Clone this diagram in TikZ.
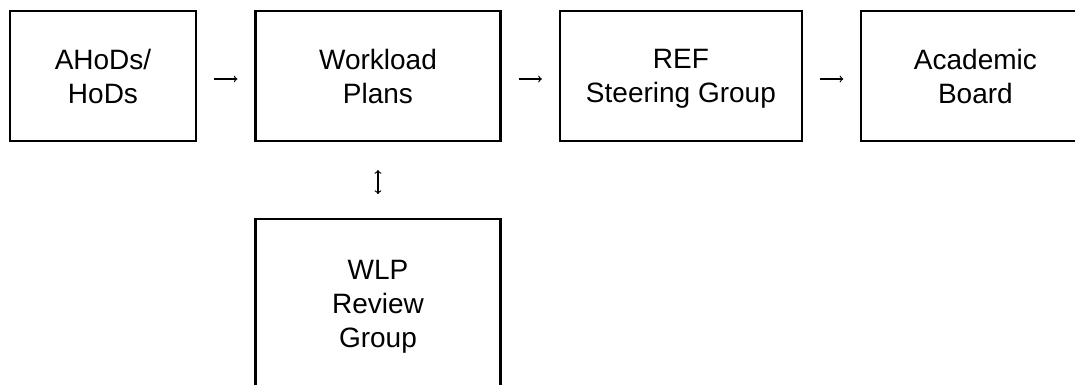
\documentclass[tikz,border=0pt]{standalone}
\usepackage{fontspec}
\setmainfont{Liberation Sans}
\usepackage{tikz}
\usetikzlibrary{
	arrows,
	positioning,
	calc
}

\begin{document}
\begin{tikzpicture}[node distance=57pt and 43pt,
        box/.style={draw, rectangle, line width=1.6pt, align=center, minimum height=97.5pt,
            text depth=0pt, font=\fontsize{21pt}{25.5pt}\selectfont},
        flow/.style={->, line width=0.9pt, shorten <=12.75pt, shorten >=12.75pt}]
        % page window, the last box and the review box run off the edge
        \useasboundingbox (-77.25pt,57pt) rectangle (729pt,-231.75pt);
        \clip (-77.25pt,57pt) rectangle (729pt,-231.75pt);

        \node[box, minimum width=139.5pt] (AH) {AHoDs/\\HoDs};
        \node[box, minimum width=183.75pt, right=of AH] (WP) {Workload\\Plans};
        \node[box, minimum width=181.5pt, right=of WP] (RSG) {REF\\Steering Group};
        \node[box, minimum width=171pt, right=of RSG] (AB) {Academic\\Board};
        \node[box, minimum width=183.75pt, minimum height=127.5pt, below=of WP] (WLP) {WLP\\Review\\Group};

        \draw[flow] ([yshift=-2.25pt]AH.east) -- ([yshift=-2.25pt]WP.west);
        \draw[flow] ([yshift=-2.25pt]WP.east) -- ([yshift=-2.25pt]RSG.west);
        \draw[flow] ([yshift=-2.25pt]RSG.east) -- ([yshift=-2.25pt]AB.west);
        \draw[flow, <->, shorten <=21pt, shorten >=18pt] (WP) -- (WLP); % two-way link
    \end{tikzpicture}
\end{document}
